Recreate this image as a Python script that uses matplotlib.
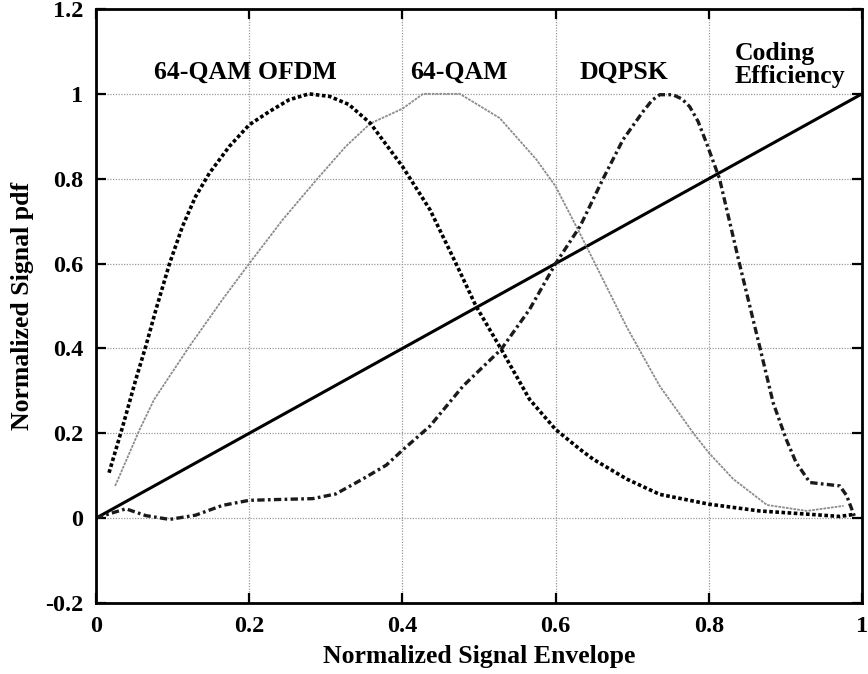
import matplotlib
matplotlib.use("Agg")
import matplotlib.pyplot as plt
from matplotlib.ticker import FuncFormatter

plt.rcParams["font.family"] = ["Liberation Serif", "DejaVu Serif"]
plt.rcParams["font.weight"] = "bold"

# --- data ---
ofdm_x = [0.017, 0.035, 0.052, 0.065, 0.078, 0.096, 0.113, 0.13, 0.148, 0.174, 0.2, 0.226,
          0.252, 0.278, 0.305, 0.33, 0.358, 0.4, 0.436, 0.47, 0.496, 0.529, 0.566, 0.6,
          0.632, 0.649, 0.693, 0.736, 0.8, 0.866, 0.932, 0.971, 0.99]
ofdm_y = [0.107, 0.217, 0.327, 0.405, 0.49, 0.6, 0.688, 0.758, 0.813, 0.876, 0.927, 0.958,
          0.986, 1.0, 0.994, 0.975, 0.931, 0.829, 0.727, 0.6, 0.5, 0.398, 0.28, 0.209,
          0.162, 0.139, 0.092, 0.056, 0.033, 0.017, 0.009, 0.004, 0.009]

qam_x = [0.025, 0.057, 0.076, 0.122, 0.165, 0.2, 0.244, 0.289, 0.326, 0.358, 0.4, 0.427,
         0.475, 0.527, 0.575, 0.6, 0.632, 0.693, 0.736, 0.78, 0.8, 0.832, 0.876, 0.928, 0.976]
qam_y = [0.076, 0.209, 0.28, 0.405, 0.515, 0.6, 0.704, 0.8, 0.876, 0.93, 0.965, 1.0,
         1.0, 0.943, 0.845, 0.782, 0.67, 0.45, 0.311, 0.2, 0.154, 0.092, 0.031, 0.017, 0.029]

dqpsk_x = [0, 0.017, 0.039, 0.065, 0.096, 0.13, 0.165, 0.2, 0.239, 0.283, 0.313, 0.348,
           0.379, 0.4, 0.436, 0.479, 0.529, 0.566, 0.6, 0.632, 0.662, 0.688, 0.714, 0.726,
           0.736, 0.753, 0.765, 0.775, 0.786, 0.797, 0.814, 0.84, 0.867, 0.884, 0.901,
           0.914, 0.932, 0.971, 0.98, 0.99]
dqpsk_y = [0, 0.01, 0.022, 0.006, -0.003, 0.007, 0.03, 0.042, 0.044, 0.046, 0.057, 0.092,
           0.125, 0.16, 0.217, 0.311, 0.398, 0.492, 0.6, 0.688, 0.8, 0.892, 0.958, 0.985,
           0.998, 0.998, 0.988, 0.97, 0.935, 0.884, 0.8, 0.6, 0.4, 0.272, 0.186,
           0.131, 0.084, 0.076, 0.053, 0.005]

eff_x = [0, 1]
eff_y = [0, 1]

xticks = [0, 0.2, 0.4, 0.6, 0.8, 1]
yticks = [-0.2, 0, 0.2, 0.4, 0.6, 0.8, 1, 1.2]

fig = plt.figure(figsize=(8.68, 6.74), dpi=100)
ax = fig.add_axes([96 / 868, 1 - 603 / 674, 766 / 868, 594 / 674])

ax.plot(eff_x, eff_y, color="black", lw=2.2, solid_capstyle="butt")
ax.plot(qam_x, qam_y, color="#8c8c8c", lw=1.3, ls=(0, (1.5, 0.6)))
ax.plot(dqpsk_x, dqpsk_y, color="#1a1a1a", lw=2.4, ls=(0, (2.2, 1.0, 0.8, 1.0)))
ax.plot(ofdm_x, ofdm_y, color="black", lw=2.6, ls=(0, (1.0, 0.7)))

ax.set_xlim(0, 1)
ax.set_ylim(-0.2, 1.2)
ax.set_xticks(xticks)
ax.set_yticks(yticks)
fmt = FuncFormatter(lambda v, p: f"{v:g}")
ax.xaxis.set_major_formatter(fmt)
ax.yaxis.set_major_formatter(fmt)
ax.tick_params(direction="in", top=True, right=True, length=7, width=1.6,
               labelsize=17.5, pad=9)
for lab in ax.get_xticklabels() + ax.get_yticklabels():
    lab.set_fontweight("bold")
ax.grid(True, color="#9a9a9a", ls=(0, (1, 1.2)), lw=0.9)
for s in ax.spines.values():
    s.set_linewidth(2.0)

ax.set_xlabel("Normalized Signal Envelope", fontsize=18.5, fontweight="bold", labelpad=6)
ax.set_ylabel("Normalized Signal pdf", fontsize=18.5, fontweight="bold", labelpad=8)

tk = dict(fontsize=18.5, fontweight="bold", va="center")
ax.text(0.195, 1.05, "64-QAM OFDM", ha="center", **tk)
ax.text(0.474, 1.05, "64-QAM", ha="center", **tk)
ax.text(0.689, 1.05, "DQPSK", ha="center", **tk)
ax.text(0.834, 1.068, "Coding\nEfficiency", ha="left", linespacing=0.95, **tk)

fig.savefig("out.png", dpi=100)
